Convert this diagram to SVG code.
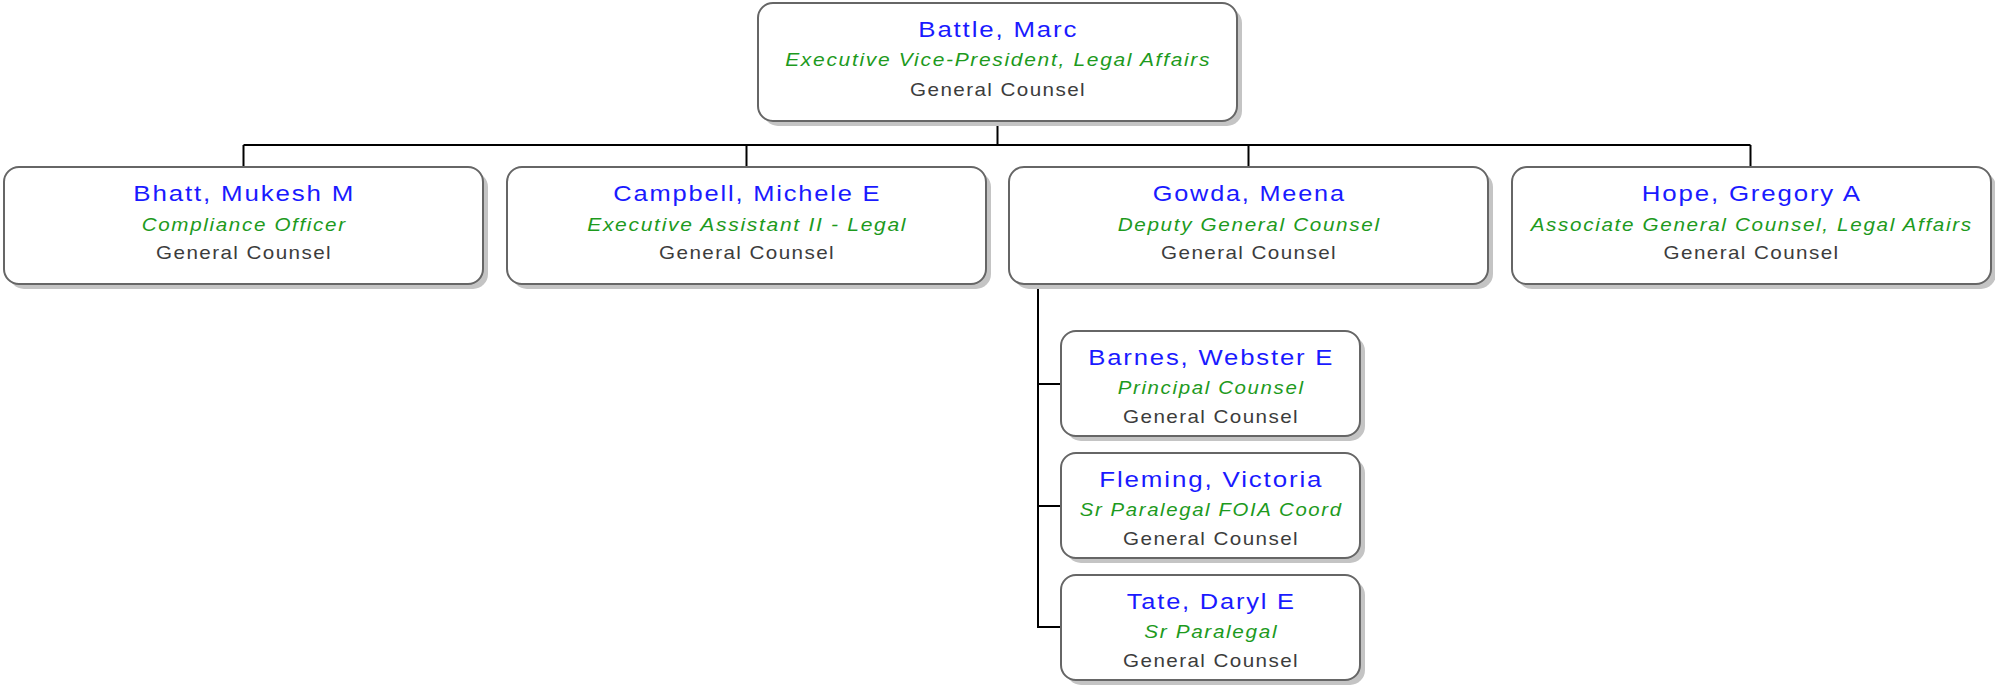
<svg xmlns="http://www.w3.org/2000/svg" width="1995" height="686" viewBox="0 0 1995 686">
  <style>
    .shadow { fill: #c4c4c4; }
    .box { fill: #ffffff; stroke: #666666; stroke-width: 2; }
    .link { fill: none; stroke: #000000; stroke-width: 2; }
    text { font-family: "Liberation Sans", Arial, sans-serif; text-anchor: middle; }
    .name { font-size: 22.5px; letter-spacing: 1.6px; fill: #1a1aff; }
    .title { font-size: 17.5px; letter-spacing: 1.4px; fill: #1d9a1d; font-style: italic; }
    .dept { font-size: 19px; letter-spacing: 1.3px; fill: #3c3c3c; }
  </style>

  <!-- connectors -->
  <g id="connectors">
    <path class="link" d="M997.5,121 V145"/>
    <path class="link" d="M243.5,145 H1750.5"/>
    <path class="link" d="M243.5,145 V167"/>
    <path class="link" d="M746.5,145 V167"/>
    <path class="link" d="M1248.5,145 V167"/>
    <path class="link" d="M1750.5,145 V167"/>
    <path class="link" d="M1038,284 V627 H1061"/>
    <path class="link" d="M1038,384 H1061"/>
    <path class="link" d="M1038,506 H1061"/>
  </g>

  <!-- root -->
  <g id="battle">
    <rect class="shadow" x="763" y="8" width="479" height="118" rx="15"/>
    <rect class="box" x="758" y="3" width="479" height="118" rx="15"/>
    <text class="name" x="998.3" y="37" textLength="160" lengthAdjust="spacingAndGlyphs">Battle, Marc</text>
    <text class="title" x="998.2" y="66" textLength="426" lengthAdjust="spacingAndGlyphs">Executive Vice-President, Legal Affairs</text>
    <text class="dept" x="998.1" y="95.5" textLength="176" lengthAdjust="spacingAndGlyphs">General Counsel</text>
  </g>

  <!-- direct reports -->
  <g id="bhatt">
    <rect class="shadow" x="9" y="172" width="479" height="117" rx="15"/>
    <rect class="box" x="4" y="167" width="479" height="117" rx="15"/>
    <text class="name" x="244.3" y="201" textLength="222" lengthAdjust="spacingAndGlyphs">Bhatt, Mukesh M</text>
    <text class="title" x="244.2" y="230.5" textLength="205" lengthAdjust="spacingAndGlyphs">Compliance Officer</text>
    <text class="dept" x="244.1" y="259" textLength="176" lengthAdjust="spacingAndGlyphs">General Counsel</text>
  </g>

  <g id="campbell">
    <rect class="shadow" x="512" y="172" width="479" height="117" rx="15"/>
    <rect class="box" x="507" y="167" width="479" height="117" rx="15"/>
    <text class="name" x="747.3" y="201" textLength="268" lengthAdjust="spacingAndGlyphs">Campbell, Michele E</text>
    <text class="title" x="747.2" y="230.5" textLength="320" lengthAdjust="spacingAndGlyphs">Executive Assistant II - Legal</text>
    <text class="dept" x="747.1" y="259" textLength="176" lengthAdjust="spacingAndGlyphs">General Counsel</text>
  </g>

  <g id="gowda">
    <rect class="shadow" x="1014" y="172" width="479" height="117" rx="15"/>
    <rect class="box" x="1009" y="167" width="479" height="117" rx="15"/>
    <text class="name" x="1249.3" y="201" textLength="193" lengthAdjust="spacingAndGlyphs">Gowda, Meena</text>
    <text class="title" x="1249.2" y="230.5" textLength="263" lengthAdjust="spacingAndGlyphs">Deputy General Counsel</text>
    <text class="dept" x="1249.1" y="259" textLength="176" lengthAdjust="spacingAndGlyphs">General Counsel</text>
  </g>

  <g id="hope">
    <rect class="shadow" x="1517" y="172" width="479" height="117" rx="15"/>
    <rect class="box" x="1512" y="167" width="479" height="117" rx="15"/>
    <text class="name" x="1751.8" y="201" textLength="220" lengthAdjust="spacingAndGlyphs">Hope, Gregory A</text>
    <text class="title" x="1751.7" y="230.5" textLength="442" lengthAdjust="spacingAndGlyphs">Associate General Counsel, Legal Affairs</text>
    <text class="dept" x="1751.6" y="259" textLength="176" lengthAdjust="spacingAndGlyphs">General Counsel</text>
  </g>

  <!-- reports of Gowda -->
  <g id="barnes">
    <rect class="shadow" x="1066" y="336" width="299" height="105" rx="15"/>
    <rect class="box" x="1061" y="331" width="299" height="105" rx="15"/>
    <text class="name" x="1211.3" y="365" textLength="246" lengthAdjust="spacingAndGlyphs">Barnes, Webster E</text>
    <text class="title" x="1211.2" y="394" textLength="187" lengthAdjust="spacingAndGlyphs">Principal Counsel</text>
    <text class="dept" x="1211.1" y="422.5" textLength="176" lengthAdjust="spacingAndGlyphs">General Counsel</text>
  </g>

  <g id="fleming">
    <rect class="shadow" x="1066" y="458" width="299" height="105" rx="15"/>
    <rect class="box" x="1061" y="453" width="299" height="105" rx="15"/>
    <text class="name" x="1211.3" y="487" textLength="224" lengthAdjust="spacingAndGlyphs">Fleming, Victoria</text>
    <text class="title" x="1211.2" y="516" textLength="263" lengthAdjust="spacingAndGlyphs">Sr Paralegal FOIA Coord</text>
    <text class="dept" x="1211.1" y="544.5" textLength="176" lengthAdjust="spacingAndGlyphs">General Counsel</text>
  </g>

  <g id="tate">
    <rect class="shadow" x="1066" y="580" width="299" height="105" rx="15"/>
    <rect class="box" x="1061" y="575" width="299" height="105" rx="15"/>
    <text class="name" x="1211.3" y="609" textLength="169" lengthAdjust="spacingAndGlyphs">Tate, Daryl E</text>
    <text class="title" x="1211.2" y="638" textLength="134" lengthAdjust="spacingAndGlyphs">Sr Paralegal</text>
    <text class="dept" x="1211.1" y="666.5" textLength="176" lengthAdjust="spacingAndGlyphs">General Counsel</text>
  </g>
</svg>
